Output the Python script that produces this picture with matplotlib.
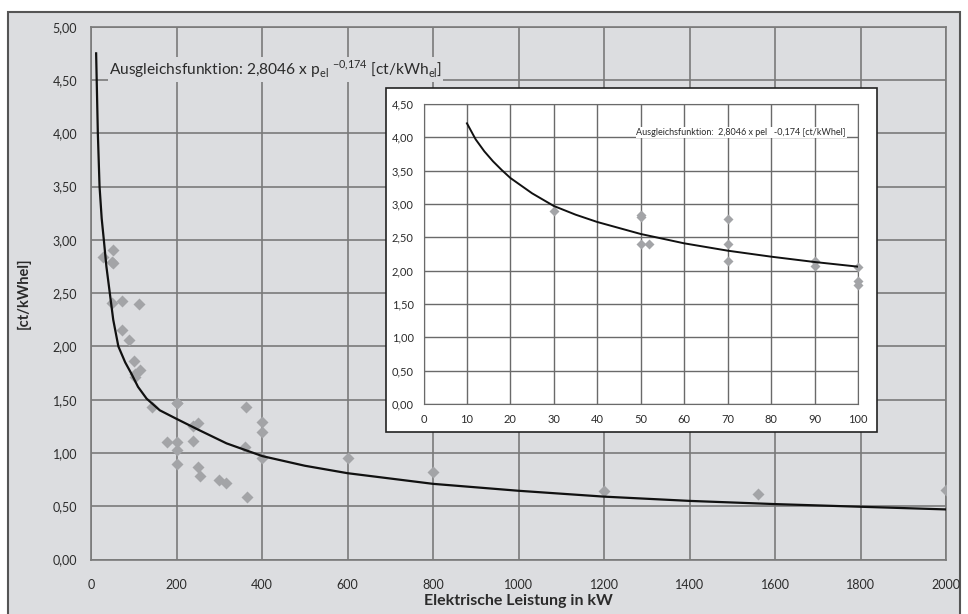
import matplotlib
matplotlib.use("Agg")
import matplotlib.pyplot as plt
from matplotlib.patches import Rectangle

plt.rcParams['font.family'] = ['Lato', 'DejaVu Sans']

# main chart: measured points (kW, ct/kWhel)
leistung = [29, 51, 48, 52, 48, 72, 112, 72, 90, 101, 114, 102, 104, 142, 200,
            200, 362, 251, 239, 401, 401, 178, 200, 200, 239, 360, 401, 200,
            251, 255, 300, 315, 366, 600, 800, 1200, 1560, 2000]
kosten = [2.84, 2.90, 2.79, 2.78, 2.41, 2.43, 2.40, 2.15, 2.06, 1.86, 1.78, 1.74, 1.71, 1.43, 1.47,
          1.47, 1.43, 1.28, 1.25, 1.29, 1.20, 1.10, 1.10, 1.03, 1.11, 1.06, 0.95, 0.90,
          0.87, 0.78, 0.75, 0.72, 0.59, 0.95, 0.82, 0.64, 0.61, 0.65]

# fit curve
fit_x = [12, 16, 20, 25, 30, 36, 44, 52, 64, 80, 95, 110, 130, 161, 200, 250, 317, 401,
         500, 600, 800, 1000, 1200, 1400, 1600, 1800, 2000]
fit_y = [4.75, 4.00, 3.50, 3.20, 3.00, 2.75, 2.50, 2.25, 2.00, 1.85, 1.74, 1.62, 1.51, 1.40,
         1.32, 1.22, 1.09, 0.97, 0.88, 0.81, 0.71, 0.645, 0.59, 0.55, 0.52, 0.495, 0.47]

# inset (0-100 kW)
ins_x = [30, 50, 50, 50, 52, 70, 70, 70, 90, 90, 100, 100, 100]
ins_y = [2.90, 2.84, 2.80, 2.40, 2.40, 2.78, 2.40, 2.15, 2.15, 2.07, 2.05, 1.85, 1.78]
ins_fit_x = [10, 12, 14, 16, 18, 20, 25, 30, 35, 40, 50, 60, 70, 80, 90, 100]
ins_fit_y = [4.21, 3.97, 3.79, 3.64, 3.51, 3.39, 3.16, 2.97, 2.84, 2.73, 2.55, 2.41, 2.30, 2.21,
             2.13, 2.06]

x_ticks = [0, 200, 400, 600, 800, 1000, 1200, 1400, 1600, 1800, 2000]
y_ticks = [0, 0.5, 1.0, 1.5, 2.0, 2.5, 3.0, 3.5, 4.0, 4.5, 5.0]
ins_x_ticks = [0, 10, 20, 30, 40, 50, 60, 70, 80, 90, 100]
ins_y_ticks = [0, 0.5, 1.0, 1.5, 2.0, 2.5, 3.0, 3.5, 4.0, 4.5]

def komma(v):
    return ('%.2f' % v).replace('.', ',')

bg = '#dcdde0'
grid_c = '#7a7a7a'
pt_c = '#a3a4a7'
txt_c = '#2b2b2b'

fig = plt.figure(figsize=(9.68, 6.14), dpi=100, facecolor='white')

# grey frame
fig.patches.append(Rectangle((8/968, -0.01), 952/968, (614-12)/614 + 0.01,
                             transform=fig.transFigure, facecolor=bg,
                             edgecolor='#555555', lw=1.5, zorder=-1))

ax = fig.add_axes([91/968, (614-559.5)/614, 855/968, 532.8/614])
ax.set_facecolor(bg)
ax.set_xlim(0, 2000)
ax.set_ylim(0, 5)
ax.set_xticks(x_ticks)
ax.set_xticklabels([str(v) for v in x_ticks])
ax.set_yticks(y_ticks)
ax.set_yticklabels([komma(v) for v in y_ticks])
ax.tick_params(length=0, labelsize=9, colors=txt_c, pad=14)
ax.tick_params(axis='y', pad=10)
ax.grid(True, color=grid_c, lw=1.2)
for s in ax.spines.values():
    s.set_color(grid_c)
    s.set_linewidth(1.2)
ax.set_axisbelow(True)

ax.plot(leistung, kosten, 'D', color=pt_c, ms=6.2, mec='none', zorder=3)
ax.plot(fit_x, fit_y, color='#111111', lw=1.6, zorder=4)

ax.text(0.021, 0.92,
        r'Ausgleichsfunktion: 2,8046 x p$_{\mathregular{el}}$ $^{\mathregular{-0{,}174}}$ [ct/kWh$_{\mathregular{el}}$]',
        transform=ax.transAxes, fontsize=11.2, color=txt_c, va='center', ha='left',
        bbox=dict(facecolor=bg, edgecolor='none', pad=1))

ax.set_xlabel('Elektrische Leistung in kW', fontsize=11.5, fontweight='bold',
              color=txt_c, labelpad=2)
ax.set_ylabel('[ct/kWhel]', fontsize=10.5, fontweight='bold', color=txt_c,
              labelpad=16)

# white inset box
fig.patches.append(Rectangle((386/968, (614-432)/614), 491/968, 344/614,
                             transform=fig.transFigure, facecolor='white',
                             edgecolor='#222222', lw=1.2, zorder=1))

ins = fig.add_axes([423.5/968, (614-404)/614, 434.5/968, 300/614], zorder=2)
ins.set_facecolor('white')
ins.set_xlim(0, 100)
ins.set_ylim(0, 4.5)
ins.set_xticks(ins_x_ticks)
ins.set_xticklabels([str(v) for v in ins_x_ticks])
ins.set_yticks(ins_y_ticks)
ins.set_yticklabels([komma(v) for v in ins_y_ticks])
ins.tick_params(length=0, labelsize=8, colors=txt_c, pad=7)
ins.grid(True, color='#6a6a6a', lw=1.0)
for s in ins.spines.values():
    s.set_color('#6a6a6a')
ins.set_axisbelow(True)
ins.plot(ins_x, ins_y, 'D', color=pt_c, ms=5.2, mec='none', zorder=3, clip_on=False)
ins.plot(ins_fit_x, ins_fit_y, color='#111111', lw=1.4, zorder=4)
ins.text(0.49, 0.905, 'Ausgleichsfunktion:  2,8046 x pel   -0,174 [ct/kWhel]',
         transform=ins.transAxes, fontsize=6.5, color=txt_c, va='center', ha='left',
         bbox=dict(facecolor='white', edgecolor='none', pad=0.5))

fig.savefig('out.png', dpi=100)
